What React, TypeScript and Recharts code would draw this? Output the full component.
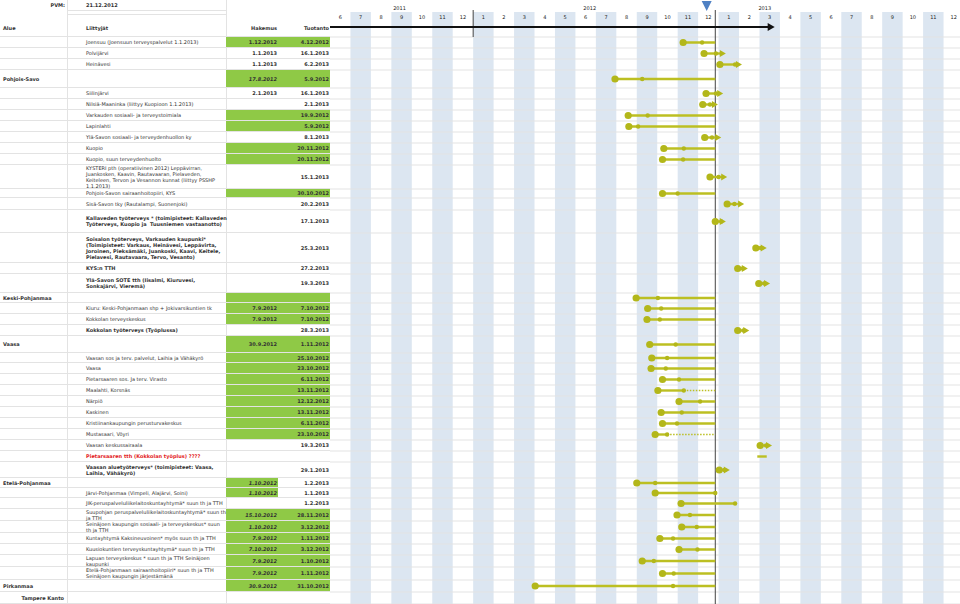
import React from 'react';
import { ComposedChart, XAxis, YAxis, ReferenceArea, ReferenceLine, Scatter } from 'recharts';

// header texts
const PVM = '21.12.2012';
const HEAD_ALUE = 'Alue';
const HEAD_LIITTYJAT = 'Liittyjät';
const HEAD_HAKEMUS = 'Hakemus';
const HEAD_TUOTANTO = 'Tuotanto';

// timeline axis labels
const MONTH_LABELS = ['6', '7', '8', '9', '10', '11', '12', '1', '2', '3', '4', '5', '6', '7', '8', '9', '10', '11', '12', '1', '2', '3', '4', '5', '6', '7', '8', '9', '10', '11', '12'];
const YEARS = ['2011', '2012', '2013'];
const YEAR_LABEL_DATES = ['13.9.2011', '22.6.2012', '9.3.2013'];
const TODAY_MARK = '14.12.2012';
const TODAY_LINE = '27.12.2012';
const TIMELINE_ARROW_END = '24.3.2013';
const YEAR_SPLIT = '1.1.2012';

// table columns
const ALUE = ['', '', '', 'Pohjois-Savo', '', '', '', '', '', '', '', '', '', '', '', '', '', '', 'Keski-Pohjanmaa', '', '', '', 'Vaasa', '', '', '', '', '', '', '', '', '', '', '', 'Etelä-Pohjanmaa', '', '', '', '', '', '', '', '', 'Pirkanmaa', 'Tampere Kanto'];

const LIITTYJAT = [
  'Joensuu (Joensuun terveyspalvelut 1.1.2013)',
  'Polvijärvi',
  'Heinävesi',
  '',
  'Siilinjärvi',
  'Nilsiä-Maaninka (liittyy Kuopioon 1.1.2013)',
  'Varkauden sosiaali- ja terveystoimiala',
  'Lapinlahti',
  'Ylä-Savon sosiaali- ja terveydenhuollon ky',
  'Kuopio',
  'Kuopio, suun terveydenhuolto',
  'KYSTERI pth (operatiivinen 2012) Leppävirran,\nJuankosken, Kaavin, Rautavaaran, Pielaveden,\nKeiteleen, Tervon ja Vesannon kunnat (liittyy PSSHP\n1.1.2013)',
  'Pohjois-Savon sairaanhoitopiiri, KYS',
  'Sisä-Savon tky (Rautalampi, Suonenjoki)',
  'Kallaveden työterveys * (toimipisteet: Kallaveden\nTyöterveys, Kuopio ja  Tuusniemen vastaanotto)',
  'Soisalon työterveys, Varkauden kaupunki*\n(Toimipisteet: Varkaus, Heinävesi, Leppävirta,\nJoroinen, Pieksämäki, Juankoski, Kaavi, Keitele,\nPielavesi, Rautavaara, Tervo, Vesanto)',
  'KYS:n TTH',
  'Ylä-Savon SOTE tth (Iisalmi, Kiuruvesi,\nSonkajärvi, Vieremä)',
  '',
  'Kiuru: Keski-Pohjanmaan shp + Jokivarsikuntien tk',
  'Kokkolan terveyskeskus',
  'Kokkolan työterveys (Työplussa)',
  '',
  'Vaasan sos ja terv. palvelut, Laihia ja Vähäkyrö',
  'Vaasa',
  'Pietarsaaren sos. Ja terv. Virasto',
  'Maalahti, Korsnäs',
  'Närpiö',
  'Kaskinen',
  'Kristiinankaupungin perusturvakeskus',
  'Mustasaari, Vöyri',
  'Vaasan keskussairaala',
  'Pietarsaaren tth (Kokkolan työplus) ????',
  'Vaasan aluetyöterveys* (toimipisteet: Vaasa,\nLaihia, Vähäkyrö)',
  '',
  'Järvi-Pohjanmaa (Vimpeli, Alajärvi, Soini)',
  'JIK-peruspalveluliikelaitoskuntayhtymä* suun th ja TTH',
  'Suupohjan peruspalveluliikelaitoskuntayhtymä* suun th\nja TTH',
  'Seinäjoen kaupungin sosiaali- ja terveyskeskus* suun\nth ja TTH',
  'Kuntayhtymä Kaksineuvoinen* myös suun th ja TTH',
  'Kuusiokuntien terveyskuntayhtymä* suun th ja TTH',
  'Lapuan terveyskeskus * suun th ja TTH Seinäjoen\nkaupunki',
  'Etelä-Pohjanmaan sairaanhoitopiiri* suun th ja TTH\nSeinäjoen kaupungin järjestämänä',
  '',
  '',
];

const HAKEMUS = ['1.12.2012', '1.1.2013', '1.1.2013', '17.8.2012', '2.1.2013', '', '', '', '', '', '', '', '', '', '', '', '', '', '', '7.9.2012', '7.9.2012', '', '30.9.2012', '', '', '', '', '', '', '', '', '', '', '', '1.10.2012', '1.10.2012', '', '15.10.2012', '1.10.2012', '7.9.2012', '7.10.2012', '7.9.2012', '7.9.2012', '30.9.2012', ''];

const TUOTANTO = ['4.12.2012', '16.1.2013', '6.2.2013', '5.9.2012', '16.1.2013', '2.1.2013', '19.9.2012', '5.9.2012', '8.1.2013', '20.11.2012', '20.11.2012', '15.1.2013', '30.10.2012', '20.2.2013', '17.1.2013', '25.3.2013', '27.2.2013', '19.3.2013', '', '7.10.2012', '7.10.2012', '28.3.2013', '1.11.2012', '25.10.2012', '23.10.2012', '6.11.2012', '13.11.2012', '12.12.2012', '13.11.2012', '6.11.2012', '23.10.2012', '19.3.2013', '', '29.1.2013', '1.2.2013', '1.1.2013', '1.2.2013', '28.11.2012', '3.12.2012', '1.11.2012', '3.12.2012', '1.10.2012', '1.11.2012', '31.10.2012', ''];

// gantt marks
const BAR_START = ['9.11.2012', '10.12.2012', '3.1.2013', '30.7.2012', '13.12.2012', '8.12.2012', '19.8.2012', '20.8.2012', '11.12.2012', '11.10.2012', '9.10.2012', '19.12.2012', '9.10.2012', '14.1.2013', '27.12.2012', '24.2.2013', '30.1.2013', '28.2.2013', '31.8.2012', '17.9.2012', '16.9.2012', '30.1.2013', '20.9.2012', '23.9.2012', '22.9.2012', '9.10.2012', '2.10.2012', '3.11.2012', '7.10.2012', '9.10.2012', '28.9.2012', '2.3.2013', '26.2.2013', '2.1.2013', '1.9.2012', '28.9.2012', '6.11.2012', '31.10.2012', '7.11.2012', '5.10.2012', '3.11.2012', '9.9.2012', '9.10.2012', '2.4.2012', ''];
const BAR_MID = ['7.12.2012', '28.12.2012', '26.1.2013', '9.9.2012', '28.12.2012', '19.12.2012', '17.9.2012', '3.9.2012', '22.12.2012', '10.11.2012', '9.11.2012', '1.1.2013', '1.11.2012', '25.1.2013', '5.1.2013', '3.3.2013', '6.2.2013', '8.3.2013', '2.10.2012', '7.10.2012', '5.10.2012', '7.2.2013', '29.10.2012', '16.10.2012', '14.10.2012', '3.11.2012', '10.11.2012', '4.12.2012', '7.11.2012', '31.10.2012', '16.10.2012', '11.3.2013', '', '10.1.2013', '28.9.2012', '27.12.2012', '26.1.2013', '19.11.2012', '29.11.2012', '25.10.2012', '30.11.2012', '26.9.2012', '26.10.2012', '25.10.2012', ''];
const BAR_END = ['27.12.2012', '12.1.2013', '5.2.2013', '27.12.2012', '8.1.2013', '31.12.2012', '27.12.2012', '27.12.2012', '5.1.2013', '27.12.2012', '27.12.2012', '14.1.2013', '27.12.2012', '8.2.2013', '12.1.2013', '12.3.2013', '13.2.2013', '17.3.2013', '27.12.2012', '27.12.2012', '27.12.2012', '15.2.2013', '27.12.2012', '27.12.2012', '27.12.2012', '27.12.2012', '27.12.2012', '27.12.2012', '27.12.2012', '27.12.2012', '27.12.2012', '20.3.2013', '12.3.2013', '18.1.2013', '27.12.2012', '27.12.2012', '26.1.2013', '27.12.2012', '27.12.2012', '27.12.2012', '27.12.2012', '27.12.2012', '27.12.2012', '27.12.2012', ''];
const BAR_KIND = ['line', 'arrow', 'arrow', 'line', 'arrow', 'arrow', 'line', 'line', 'arrow', 'line', 'line', 'arrow', 'line', 'arrow', 'arrow', 'arrow', 'arrow', 'arrow', 'line', 'line', 'line', 'arrow', 'line', 'line', 'line', 'line', 'dashed', 'line', 'line', 'line', 'dashed', 'arrow', 'plain', 'arrow', 'line', 'line', 'line', 'line', 'line', 'line', 'line', 'line', 'line', 'line', ''];

// layout / styling per row
const ROW_H = [11, 11, 11, 18, 11, 11, 11, 11, 11, 11, 11, 24, 9, 12, 23, 30, 11, 19, 10, 11, 11, 11, 17, 10, 11, 11, 11, 11, 11, 11, 11, 11, 11, 16, 10, 10, 11, 12, 12, 11, 11, 12, 13, 12, 12];
const GREEN = ['HT', '', '', 'HT', '', '', 'HT', 'HT', '', 'HT', 'HT', '', 'HT', '', '', '', '', '', 'HT', 'HT', 'HT', '', 'HT', 'HT', 'HT', 'HT', 'HT', 'HT', 'HT', 'HT', 'HT', '', '', '', 'H', 'H', '', 'HT', 'HT', 'HT', 'HT', 'HT', 'HT', 'HT', ''];
const BOLD_ROWS = [14, 15, 16, 17, 21, 32, 33];
const RED_ROWS = [32];
const ITALIC_HAKEMUS = [3, 34, 35, 37, 38, 39, 40, 41, 42, 43];

const BODY_TOP = 37;
const W = 960;
const H = 604;
const TABLE_W = 330;
const CHART_W = 634;
const GREEN_BG = '#8fc946';
const GRID = '#e3e3e3';
const BAR = '#bcbf22';
const DOT = '#b3b71a';
const SHADE = '#dce6f1';
const FONT = '"DejaVu Sans", Verdana, sans-serif';

// month index from 1.6.2011
function toIdx(s: string): number {
  const [d, m, y] = s.split('.').map(Number);
  const dim = new Date(y, m, 0).getDate();
  return (y - 2011) * 12 + (m - 6) + (d - 1) / dim;
}

const tops: number[] = [];
ROW_H.reduce((acc, h) => {
  tops.push(acc);
  return acc + h;
}, BODY_TOP);
const centers = ROW_H.map((h, i) => tops[i] + h / 2);

const bigDots = BAR_START.map((s, i) => (s && BAR_KIND[i] !== 'plain' ? { x: toIdx(s), y: centers[i] } : null)).filter(Boolean);
const smallDots = BAR_MID.map((s, i) => (s ? { x: toIdx(s), y: centers[i] } : null)).filter(Boolean);
const arrowHeads = BAR_END.map((s, i) => (BAR_KIND[i] === 'arrow' ? { x: toIdx(s), y: centers[i] } : null)).filter(Boolean);

const monthLabelData = MONTH_LABELS.map((label, i) => ({ x: i + 0.5, y: 17, label }));
const yearLabelData = YEARS.map((label, i) => ({ x: toIdx(YEAR_LABEL_DATES[i]), y: 8, label }));

const txt: React.CSSProperties = {
  position: 'absolute',
  top: 0,
  height: '100%',
  display: 'flex',
  alignItems: 'center',
  fontSize: 5,
  lineHeight: '6px',
  whiteSpace: 'pre',
};

function TableRow({ i }: { i: number }) {
  const bold = BOLD_ROWS.includes(i);
  const red = RED_ROWS.includes(i);
  const g = GREEN[i];
  const tampere = i === ROW_H.length - 1;
  return (
    <div style={{ position: 'absolute', left: 0, top: tops[i], width: TABLE_W, height: ROW_H[i], borderBottom: `1px solid ${GRID}`, boxSizing: 'border-box' }}>
      {g.includes('H') && <div style={{ position: 'absolute', left: 226, top: 0, width: 52, height: '100%', background: GREEN_BG }} />}
      {g.includes('T') && <div style={{ position: 'absolute', left: 278, top: 0, width: 52, height: '100%', background: GREEN_BG }} />}
      {ALUE[i] && (
        tampere
          ? <div style={{ ...txt, left: 0, width: 64, justifyContent: 'flex-end', fontWeight: 700 }}>{ALUE[i]}</div>
          : <div style={{ ...txt, left: 3, fontWeight: 700 }}>{ALUE[i]}</div>
      )}
      <div style={{ ...txt, left: 86, fontWeight: bold ? 700 : 400, color: red ? '#e3211c' : '#333' }}>{LIITTYJAT[i]}</div>
      <div style={{ ...txt, left: 226, width: 51, justifyContent: 'flex-end', fontWeight: 700, fontStyle: ITALIC_HAKEMUS.includes(i) ? 'italic' : 'normal' }}>{HAKEMUS[i]}</div>
      <div style={{ ...txt, left: 278, width: 51, justifyContent: 'flex-end', fontWeight: 700 }}>{TUOTANTO[i]}</div>
    </div>
  );
}

const circle = (r: number, fill: string) => (p: any) => <circle cx={p.cx} cy={p.cy} r={r} fill={fill} />;
const arrowRight = (len: number, half: number, fill: string) => (p: any) => (
  <polygon points={`${p.cx - len},${p.cy - half} ${p.cx},${p.cy} ${p.cx - len},${p.cy + half}`} fill={fill} />
);
const arrowDown = (p: any) => (
  <polygon points={`${p.cx - 5},${p.cy - 5} ${p.cx + 5},${p.cy - 5} ${p.cx},${p.cy + 5}`} fill="#4f81c4" />
);
const textMark = (p: any) => (
  <text x={p.cx} y={p.cy} dy="0.35em" textAnchor="middle" fontSize={5} fontFamily={FONT} fill="#222">
    {p.payload.label}
  </text>
);

export default function App() {
  const todayLine = toIdx(TODAY_LINE);
  const arrowEnd = toIdx(TIMELINE_ARROW_END);
  return (
    <div style={{ position: 'absolute', left: 0, top: 0, width: W, height: H, overflow: 'hidden', background: '#fff', fontFamily: FONT, color: '#333' }}>
      {/* table header */}
      <div style={{ position: 'absolute', left: 67, top: 0, width: 1, height: H, background: GRID }} />
      <div style={{ position: 'absolute', left: 226, top: 0, width: 1, height: H, background: GRID }} />
      <div style={{ position: 'absolute', left: 67, top: 10, width: 159, height: 1, background: GRID }} />
      <div style={{ position: 'absolute', left: 67, top: 14, width: 159, height: 1, background: GRID }} />
      <div style={{ position: 'absolute', left: 0, top: 0, width: TABLE_W, height: 10 }}>
        <div style={{ ...txt, left: 0, width: 65, justifyContent: 'flex-end', fontWeight: 700 }}>PVM:</div>
        <div style={{ ...txt, left: 86, fontWeight: 700 }}>{PVM}</div>
      </div>
      <div style={{ position: 'absolute', left: 0, top: 20, width: TABLE_W, height: 17, borderBottom: `1px solid ${GRID}`, boxSizing: 'border-box' }}>
        <div style={{ ...txt, left: 3, fontWeight: 700 }}>{HEAD_ALUE}</div>
        <div style={{ ...txt, left: 86, fontWeight: 700 }}>{HEAD_LIITTYJAT}</div>
        <div style={{ ...txt, left: 226, width: 51, justifyContent: 'flex-end', fontWeight: 700 }}>{HEAD_HAKEMUS}</div>
        <div style={{ ...txt, left: 278, width: 51, justifyContent: 'flex-end', fontWeight: 700 }}>{HEAD_TUOTANTO}</div>
      </div>
      {ROW_H.map((_, i) => <TableRow key={i} i={i} />)}

      {/* timeline */}
      <div style={{ position: 'absolute', left: TABLE_W, top: 0 }}>
        <ComposedChart width={CHART_W} height={H} margin={{ top: 0, right: 0, bottom: 0, left: 0 }}>
          <XAxis type="number" dataKey="x" domain={[0, 31]} allowDataOverflow hide />
          <YAxis type="number" dataKey="y" domain={[0, H]} reversed hide allowDataOverflow />

          {MONTH_LABELS.map((m, i) =>
            Number(m) % 2 === 1 ? (
              <ReferenceArea key={'s' + i} x1={i} x2={i + 1} y1={12} y2={H} fill={SHADE} fillOpacity={1} stroke="none" />
            ) : null
          )}
          <ReferenceLine y={BODY_TOP} stroke={GRID} />
          {ROW_H.map((h, i) => (
            <ReferenceLine key={'g' + i} y={tops[i] + h} stroke={GRID} />
          ))}

          <ReferenceLine segment={[{ x: toIdx(YEAR_SPLIT), y: 10 }, { x: toIdx(YEAR_SPLIT), y: 37 }]} stroke="#444" />
          <ReferenceLine segment={[{ x: todayLine, y: 10 }, { x: todayLine, y: H }]} stroke="#444" />
          <ReferenceLine segment={[{ x: 0, y: 27 }, { x: arrowEnd - 0.2, y: 27 }]} stroke="#111" strokeWidth={2} />

          {BAR_START.map((s, i) => {
            if (!s) return null;
            const y = centers[i];
            if (BAR_KIND[i] === 'dashed') {
              return (
                <React.Fragment key={'b' + i}>
                  <ReferenceLine segment={[{ x: toIdx(s), y }, { x: toIdx(BAR_MID[i]), y }]} stroke={BAR} strokeWidth={2.4} />
                  <ReferenceLine segment={[{ x: toIdx(BAR_MID[i]), y }, { x: toIdx(BAR_END[i]), y }]} stroke={BAR} strokeWidth={1.5} strokeDasharray="1.5 1.5" />
                </React.Fragment>
              );
            }
            const end = BAR_KIND[i] === 'arrow' ? toIdx(BAR_END[i]) - 0.15 : toIdx(BAR_END[i]);
            return <ReferenceLine key={'b' + i} segment={[{ x: toIdx(s), y }, { x: end, y }]} stroke={BAR} strokeWidth={2.4} />;
          })}

          <Scatter data={bigDots} fill={DOT} shape={circle(3.6, DOT)} isAnimationActive={false} />
          <Scatter data={smallDots} fill={DOT} shape={circle(2.2, DOT)} isAnimationActive={false} />
          <Scatter data={arrowHeads} fill={DOT} shape={arrowRight(6, 3.5, DOT)} isAnimationActive={false} />
          <Scatter data={[{ x: arrowEnd, y: 27 }]} fill="#111" shape={arrowRight(7, 4, '#111')} isAnimationActive={false} />
          <Scatter data={[{ x: toIdx(TODAY_MARK), y: 6 }]} fill="#4f81c4" shape={arrowDown} isAnimationActive={false} />
          <Scatter data={monthLabelData} fill="#222" shape={textMark} isAnimationActive={false} />
          <Scatter data={yearLabelData} fill="#222" shape={textMark} isAnimationActive={false} />
        </ComposedChart>
      </div>
    </div>
  );
}
